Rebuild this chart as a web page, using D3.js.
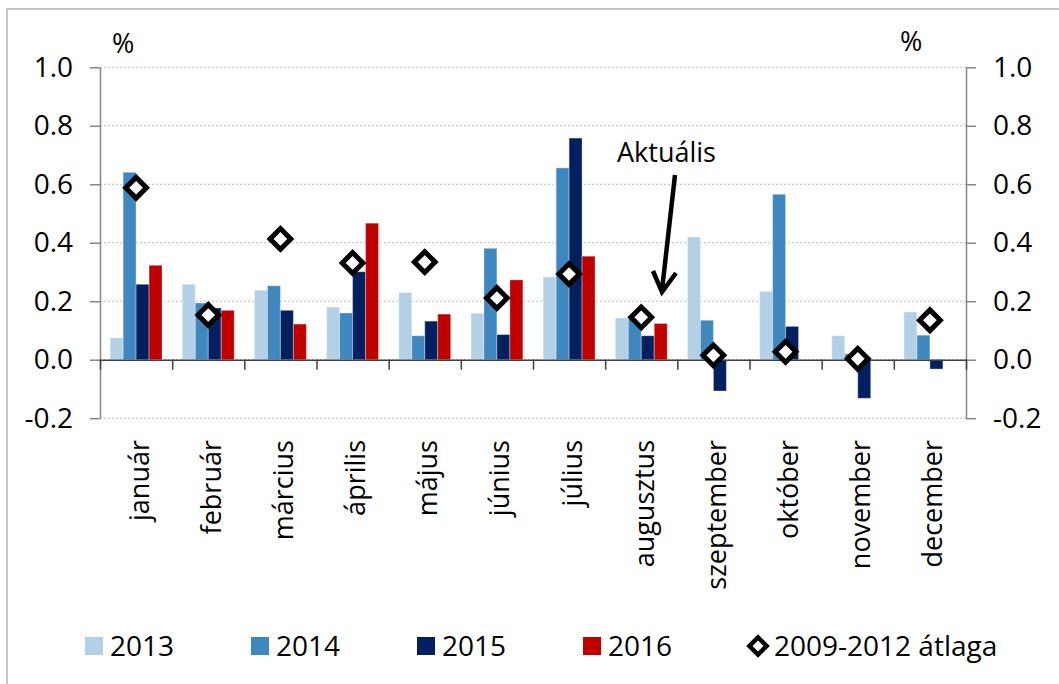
<!DOCTYPE html>
<html>
<head>
<meta charset="utf-8">
<script src="https://cdn.jsdelivr.net/npm/d3@7"></script>
<style>
  body { margin: 0; background: #fff; }
  text { font-family: "Open Sans", sans-serif; fill: #000; }
</style>
</head>
<body>
<svg id="chart" width="1059" height="684"></svg>
<script>
// months (x categories)
const months = ["január", "február", "március", "április", "május", "június",
  "július", "augusztus", "szeptember", "október", "november", "december"];

// yearly values, %
const s2013 = [0.075, 0.258, 0.238, 0.180, 0.230, 0.159, 0.283, 0.143, 0.420, 0.234, 0.082, 0.163];
const s2014 = [0.641, 0.194, 0.253, 0.160, 0.082, 0.381, 0.656, 0.140, 0.135, 0.566, 0.020, 0.084];
const s2015 = [0.258, 0.177, 0.169, 0.301, 0.132, 0.086, 0.758, 0.082, -0.107, 0.114, -0.132, -0.032];
const s2016 = [0.323, 0.169, 0.122, 0.467, 0.156, 0.273, 0.354, 0.124, null, null, null, null];
// 2009-2012 average
const avg = [0.588, 0.153, 0.413, 0.331, 0.334, 0.211, 0.293, 0.145, 0.015, 0.027, 0.003, 0.135];

const seriesNames = ["2013", "2014", "2015", "2016"];
const seriesValues = [s2013, s2014, s2015, s2016];
const colors = ["#b3d0e6", "#3f88bf", "#02205f", "#c00000"];
const yTicks = [-0.2, 0, 0.2, 0.4, 0.6, 0.8, 1.0];

const svg = d3.select("#chart");

const plotLeft = 100, plotRight = 966, plotTop = 67.3, plotBottom = 418.2;

// outer frame
svg.append("rect")
  .attr("x", 7).attr("y", 9)
  .attr("width", 1100).attr("height", 700)
  .attr("fill", "none")
  .attr("stroke", "#c4c4c4")
  .attr("stroke-width", 2);

const x = d3.scaleBand().domain(months).range([plotLeft, plotRight]).padding(0);
const xs = d3.scaleBand().domain(seriesNames).range([0, x.bandwidth()])
  .paddingInner(0).paddingOuter(0.78);
const y = d3.scaleLinear().domain([-0.2, 1.0]).range([plotBottom, plotTop]);

// gridlines
svg.append("g")
  .selectAll("line")
  .data(yTicks)
  .enter()
  .append("line")
  .attr("x1", plotLeft).attr("x2", plotRight)
  .attr("y1", d => y(d)).attr("y2", d => y(d))
  .attr("stroke", "#bdbdbd")
  .attr("stroke-dasharray", "2,2")
  .attr("stroke-width", 1);

// bars
const barData = [];
seriesValues.forEach((vals, i) => {
  vals.forEach((v, j) => {
    if (v !== null) barData.push({ s: seriesNames[i], m: months[j], v: v, c: colors[i] });
  });
});

svg.append("g")
  .selectAll("rect")
  .data(barData)
  .enter()
  .append("rect")
  .attr("x", d => x(d.m) + xs(d.s))
  .attr("y", d => y(Math.max(0, d.v)))
  .attr("width", xs.bandwidth())
  .attr("height", d => Math.abs(y(d.v) - y(0)))
  .attr("fill", d => d.c)
  .attr("stroke", "rgba(255,255,255,0.35)")
  .attr("stroke-width", 1);

// left and right axes, hyphen as minus sign
const fmt = d => d3.format(".1f")(d).replace("\u2212", "-");
const yLeft = svg.append("g")
  .attr("transform", "translate(" + plotLeft + ",0)")
  .call(d3.axisLeft(y).tickValues(yTicks).tickSize(10).tickSizeOuter(0).tickPadding(17)
    .tickFormat(fmt));
const yRight = svg.append("g")
  .attr("transform", "translate(" + plotRight + ",0)")
  .call(d3.axisRight(y).tickValues(yTicks).tickSize(10).tickSizeOuter(0).tickPadding(17)
    .tickFormat(fmt));

[yLeft, yRight].forEach(g => {
  g.selectAll("path, line").attr("stroke", "#868686").attr("stroke-width", 1.5);
  g.selectAll("text")
    .attr("font-family", "Open Sans, sans-serif")
    .attr("font-size", 28)
    .attr("fill", "#000");
});

// zero line with category ticks
const xb = d3.scaleLinear().domain([0, months.length]).range([plotLeft, plotRight]);
const zeroAxis = svg.append("g")
  .attr("transform", "translate(0," + y(0) + ")")
  .call(d3.axisBottom(xb).tickValues(d3.range(months.length + 1)).tickSize(10).tickSizeOuter(0).tickFormat(""));
zeroAxis.selectAll("path, line").attr("stroke", "#404040").attr("stroke-width", 1.5);

// month labels
svg.append("g")
  .selectAll("text")
  .data(months)
  .enter()
  .append("text")
  .attr("transform", d => "translate(" + (x(d) + x.bandwidth() / 2 + 3) + ",440) rotate(-90)")
  .attr("text-anchor", "end")
  .attr("dy", "0.35em")
  .style("font-size", "27px")
  .text(d => d);

// 2009-2012 average markers
const diamond = d3.symbol().type(d3.symbolSquare).size(215);
svg.append("g")
  .selectAll("path")
  .data(avg)
  .enter()
  .append("path")
  .attr("d", diamond)
  .attr("transform", (d, i) => "translate(" + (x(months[i]) + x.bandwidth() / 2) + "," + y(d) + ") rotate(45)")
  .attr("fill", "#fff")
  .attr("stroke", "#000")
  .attr("stroke-width", 5);

// unit labels
svg.append("text").attr("x", 112).attr("y", 53).style("font-size", "27px").text("%");
svg.append("text").attr("x", 900).attr("y", 51).style("font-size", "27px").text("%");

// annotation
svg.append("text").attr("x", 617).attr("y", 162).style("font-size", "27px").text("Aktuális");
svg.append("path")
  .attr("d", "M675,175 L662,290")
  .attr("stroke", "#000").attr("stroke-width", 4.5).attr("fill", "none");
svg.append("path")
  .attr("d", "M653,271 L662,292 L676,273")
  .attr("stroke", "#000").attr("stroke-width", 4.5).attr("fill", "none")
  .attr("stroke-linejoin", "miter");

// legend
const legendX = [85, 251, 417, 583];
const legend = svg.append("g");
seriesNames.forEach((name, i) => {
  legend.append("rect")
    .attr("x", legendX[i]).attr("y", 637)
    .attr("width", 18).attr("height", 18)
    .attr("fill", colors[i]);
  legend.append("text")
    .attr("x", legendX[i] + 25).attr("y", 656)
    .style("font-size", "28px")
    .text(name);
});
legend.append("path")
  .attr("d", d3.symbol().type(d3.symbolSquare).size(150))
  .attr("transform", "translate(758,646) rotate(45)")
  .attr("fill", "#fff")
  .attr("stroke", "#000")
  .attr("stroke-width", 4.5);
legend.append("text")
  .attr("x", 774).attr("y", 656)
  .style("font-size", "28px")
  .text("2009-2012 átlaga");
</script>
</body>
</html>
